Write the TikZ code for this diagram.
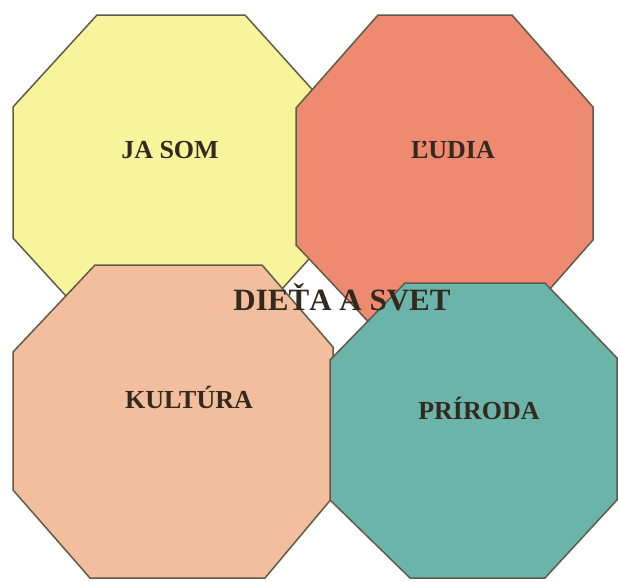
\documentclass[tikz,border=0pt]{standalone}
\usepackage{fontspec}
\setmainfont{Liberation Serif}
\usepackage{tikz}
\usetikzlibrary{positioning}
\definecolor{octyellow}{HTML}{F8F49C}
\definecolor{octred}{HTML}{EE8A70}
\definecolor{octpeach}{HTML}{F3BE9D}
\definecolor{octteal}{HTML}{6BB4A9}
\definecolor{octline}{HTML}{5F5B48}
\definecolor{lbltext}{HTML}{33291F}
\newcommand{\lblfont}{\fontsize{26}{26}\selectfont\bfseries}
\newcommand{\titlefont}{\fontsize{31}{31}\selectfont\bfseries}
\tikzset{
  octa/.style  = {draw=octline, line width=1.5pt, line join=miter},
  lbl/.style   = {font=\lblfont, text=lbltext, inner sep=0pt},
  title/.style = {font=\titlefont, text=lbltext, inner sep=0pt},
}

\begin{document}
\begin{tikzpicture}[x=1pt,y=-1pt]
  \useasboundingbox (0,0) rectangle (618,581);
  % the four octagons, back to front
  \draw[octa,fill=octyellow] (97,15) -- (245,15) -- (328,107) -- (328,238)
    -- (245,330) -- (97,330) -- (13,238) -- (13,107) -- cycle;
  \draw[octa,fill=octred] (378,15) -- (512,15) -- (593,107) -- (593,240)
    -- (512,332) -- (378,332) -- (296,245) -- (296,108) -- cycle;
  \draw[octa,fill=octpeach] (95,265) -- (262,265) -- (333,347) -- (333,497)
    -- (265,578) -- (90,578) -- (13,490) -- (13,352) -- cycle;
  \draw[octa,fill=octteal] (405,283) -- (545,283) -- (617,358) -- (617,500)
    -- (545,578) -- (410,578) -- (330,500) -- (330,360) -- cycle;
  % labels
  \node[lbl] (jasom) at (170,150) {JA SOM};
  \node[lbl] (ludia) at (453,150) {ĽUDIA};
  \node[lbl] (kultura) at (189,397) {KULTÚRA};
  \node[lbl] (priroda) at (479,408) {PRÍRODA};
  \node[title] (dieta) at (342,297) {DIEŤA A SVET};
\end{tikzpicture}
\end{document}
